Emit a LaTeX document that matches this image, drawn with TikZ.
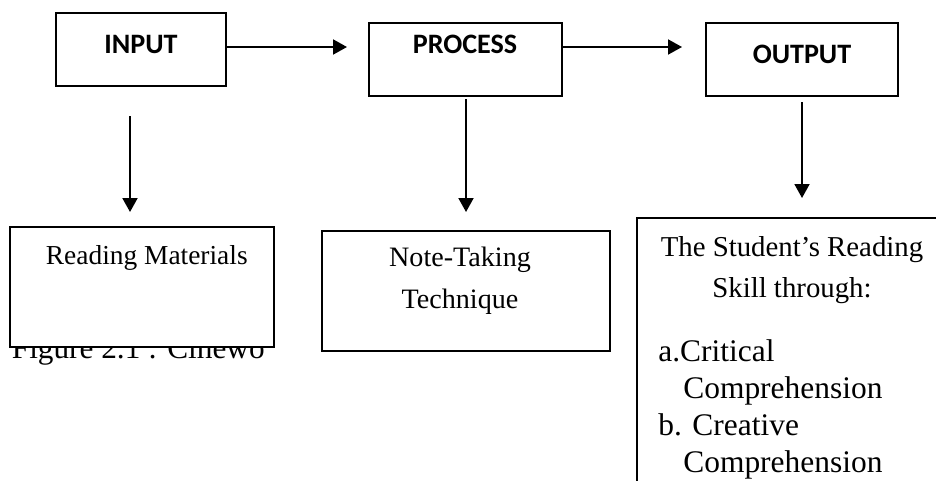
\documentclass[tikz,border=0pt]{standalone}
\usepackage{fontspec}
\setmainfont{Liberation Serif}
\newfontfamily\calibri{Carlito}
\usetikzlibrary{arrows.meta}

\begin{document}
\begin{tikzpicture}[x=0.02cm,y=-0.02cm,>={Triangle[width=0.3cm,length=0.28cm]},
    box/.style={shape=rectangle,draw=black,line width=1.1pt,fill=white,inner sep=0pt},
    head/.style={font=\calibri\bfseries\fontsize{16}{19}\selectfont,anchor=base,inner sep=0pt},
    body/.style={font=\fontsize{16.4}{23.6}\selectfont,align=center,anchor=base,inner sep=0pt},
    link/.style={->,line width=1.1pt}]
                \useasboundingbox(0, 0) rectangle (936, 480);
                \clip(0, 0) rectangle (936, 480);
                % top row
                \node[box,minimum width=3.4cm,minimum height=1.46cm](input)at(141, 49.5){};
                \node[box,minimum width=3.86cm,minimum height=1.46cm](process)at(465.5, 59.5){};
                \node[box,minimum width=3.84cm,minimum height=1.46cm](output)at(802, 59.5){};
                \node[head](inputtext)at(141, 53){INPUT};
                \node[head](processtext)at(465, 53){PROCESS};
                \node[head](outputtext)at(802, 63){OUTPUT};
                % caption partly hidden behind the first box
                \node[font=\fontsize{17.8}{20}\selectfont,anchor=base east,inner sep=0pt](caption)at(265, 358){Figure 2.1 : Cihewo};
                % bottom row
                \node[box,minimum width=5.28cm,minimum height=2.4cm](materials)at(142, 287){};
                \node[box,minimum width=5.76cm,minimum height=2.4cm](notes)at(466, 291){};
                \node[box,minimum width=6.46cm,minimum height=6.04cm](skill)at(798.5, 369){};
                \node[body,font=\fontsize{15.6}{20}\selectfont,anchor=base east](materialstext)at(248, 264){Reading Materials};
                \node[body,font=\fontsize{16}{23.9}\selectfont](notestext)at(460, 308){Note-Taking\\Technique};
                \node[body,font=\fontsize{16.4}{23.3}\selectfont](skilltext)at(792, 297){The Student’s Reading\\Skill through:};
                \node[font=\fontsize{17.9}{20.9}\selectfont,align=left,anchor=base west,inner sep=0pt](skilllist)at(658, 472){a.Critical\\\hspace*{0.5cm}Comprehension\\b. Creative\\\hspace*{0.5cm}Comprehension};
                % connectors
                \coordinate(a1)at(347, 47);
                \coordinate(a2)at(682, 47);
                \coordinate(d1s)at(130, 116);
                \coordinate(d1e)at(130, 212);
                \coordinate(d2s)at(466, 99);
                \coordinate(d2e)at(466, 212);
                \coordinate(d3s)at(802, 102);
                \coordinate(d3e)at(802, 198);
                \path[link](input.east |- a1) edge (a1)
                (process.east |- a2) edge (a2)
                (d1s) edge (d1e)
                (d2s) edge (d2e)
                (d3s) edge (d3e);
            \end{tikzpicture}
\end{document}
